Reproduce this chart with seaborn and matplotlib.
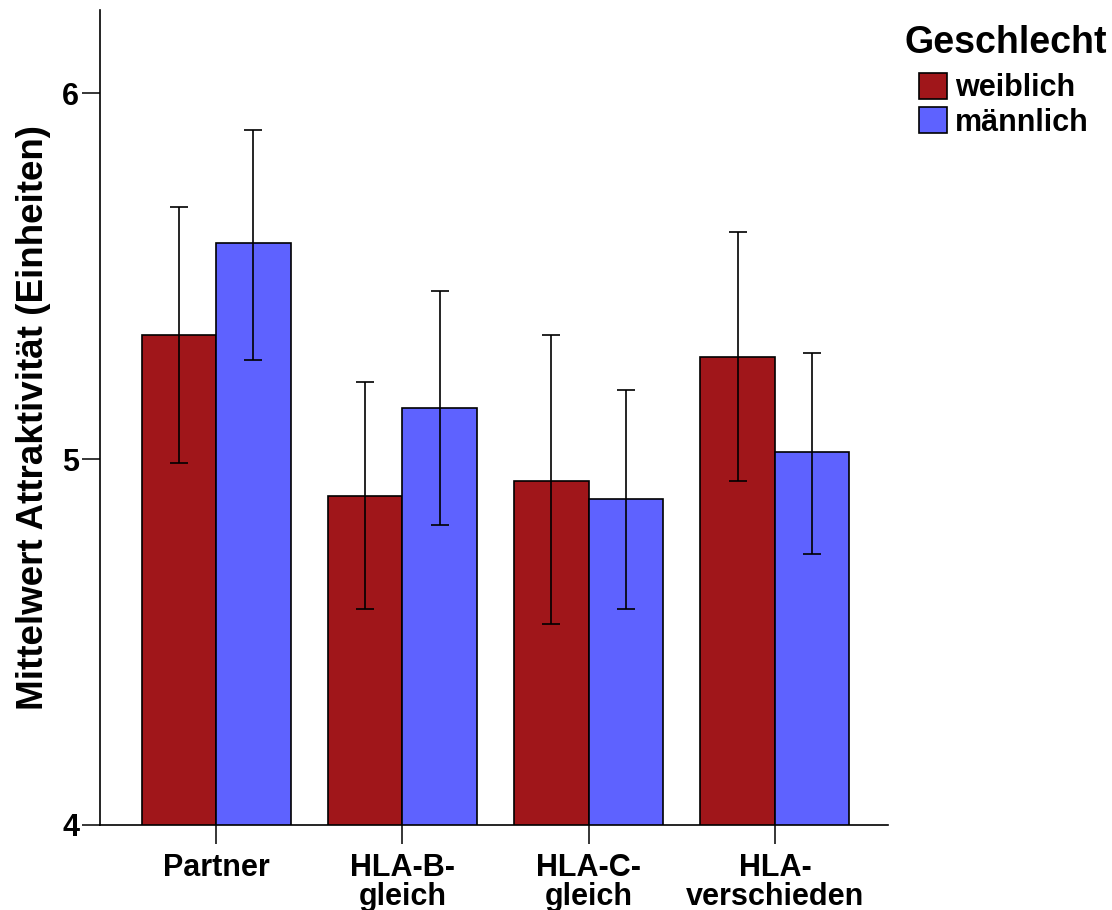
import matplotlib
matplotlib.use("Agg")
import matplotlib.pyplot as plt
import seaborn as sns
import pandas as pd
import numpy as np

# Groups and mean attractiveness ratings with 95% CI bounds
categories = ["Partner", "HLA-B-\ngleich", "HLA-C-\ngleich", "HLA-\nverschieden"]
genders = ["weiblich", "männlich"]
mean_weiblich = [5.34, 4.90, 4.94, 5.28]
lower_weiblich = [4.99, 4.59, 4.55, 4.94]
upper_weiblich = [5.69, 5.21, 5.34, 5.62]
mean_maennlich = [5.59, 5.14, 4.89, 5.02]
lower_maennlich = [5.27, 4.82, 4.59, 4.74]
upper_maennlich = [5.90, 5.46, 5.19, 5.29]
yticks = [4, 5, 6]

colors = {"weiblich": "#A0161A", "männlich": "#5E62FF"}

df = pd.DataFrame({
    "Gruppe": categories * 2,
    "Geschlecht": ["weiblich"] * 4 + ["männlich"] * 4,
    "Mittelwert": mean_weiblich + mean_maennlich,
})
bounds = {
    "weiblich": (mean_weiblich, lower_weiblich, upper_weiblich),
    "männlich": (mean_maennlich, lower_maennlich, upper_maennlich),
}

sns.set_theme(style="white")
plt.rcParams["font.family"] = ["Liberation Sans", "DejaVu Sans"]
plt.rcParams["font.weight"] = "bold"
for key in ("text.color", "axes.labelcolor", "xtick.color", "ytick.color"):
    plt.rcParams[key] = "black"

fig = plt.figure(figsize=(11.12, 9.10), dpi=100)
ax = fig.add_axes([100 / 1112, 1 - 825 / 910, 788 / 1112, 815 / 910])

sns.barplot(
    data=df, x="Gruppe", y="Mittelwert", hue="Geschlecht",
    order=categories, hue_order=genders, palette=colors,
    errorbar=None, width=0.8, saturation=1,
    edgecolor="black", linewidth=1.2, ax=ax,
)

# Confidence interval whiskers centred on each bar
for container, g in zip(ax.containers, genders):
    means, lo, hi = bounds[g]
    xs = [p.get_x() + p.get_width() / 2 for p in container.patches]
    m = np.array(means)
    yerr = np.vstack([m - np.array(lo), np.array(hi) - m])
    ax.errorbar(xs, m, yerr=yerr, fmt="none", ecolor="black",
                elinewidth=1.2, capsize=6.8, capthick=1.2, zorder=5)

ax.set_ylim(4, 6.227)
ax.set_xlim(-0.623, 3.607)
ax.set_yticks(yticks)
ax.set_yticklabels([str(t) for t in yticks])

sns.despine(ax=ax)
for s in ("left", "bottom"):
    ax.spines[s].set_color("black")
    ax.spines[s].set_linewidth(1.2)

ax.tick_params(axis="y", direction="out", length=13, width=1.1, color="black",
               pad=2, labelsize=22, left=True)
ax.tick_params(axis="x", direction="out", length=14, width=1.1, color="black",
               pad=6, labelsize=22, bottom=True)
for lab in ax.get_xticklabels():
    lab.set_fontweight("bold")
    lab.set_linespacing(0.95)
for lab in ax.get_yticklabels():
    lab.set_fontweight("bold")

ax.set_xlabel("")
ax.set_ylabel("Mittelwert Attraktivität (Einheiten)", fontsize=26.5,
              fontweight="bold", labelpad=8)

handles, labels = ax.get_legend_handles_labels()
if ax.legend_ is not None:
    ax.legend_.remove()

# Legend title and entries placed in the right margin
fig.text(905 / 1112, 1 - 53 / 910, "Geschlecht", fontsize=27,
         fontweight="bold", ha="left", va="baseline")
leg = fig.legend(
    handles, labels,
    loc="upper left", bbox_to_anchor=(919 / 1112, 1 - 73 / 910),
    frameon=False, fontsize=22,
    handlelength=0.92, handleheight=0.92, handletextpad=0.25,
    labelspacing=0.13, borderpad=0, borderaxespad=0,
)
for t in leg.get_texts():
    t.set_fontweight("bold")
for h in leg.legend_handles:
    h.set_edgecolor("black")
    h.set_linewidth(1.2)

fig.savefig("out.png", dpi=100, facecolor="white")
